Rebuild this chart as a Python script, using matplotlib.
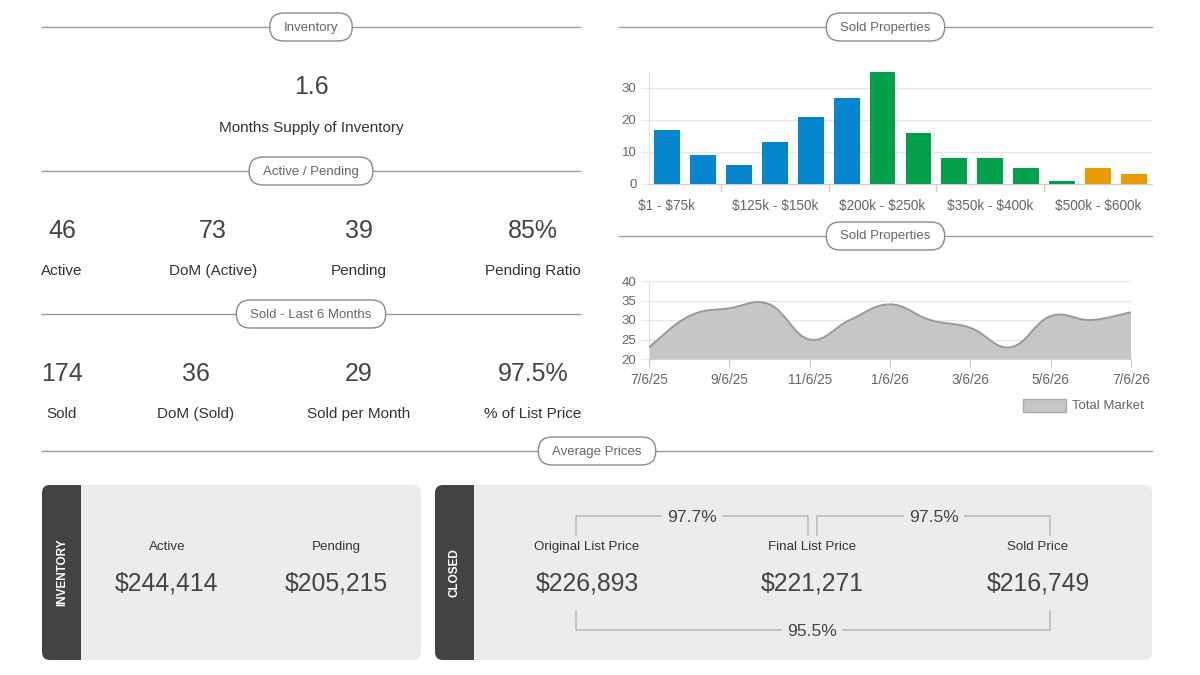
import matplotlib
matplotlib.use("Agg")
import matplotlib.pyplot as plt
from matplotlib.patches import FancyBboxPatch, Rectangle, PathPatch
from matplotlib.path import Path

plt.rcParams['font.family'] = ['Liberation Sans', 'DejaVu Sans']

# ---------------------------------------------------------------------------
# datos
# ---------------------------------------------------------------------------
months_supply = "1.6"

active_labels = ["Active", "DoM (Active)", "Pending", "Pending Ratio"]
active_values = ["46", "73", "39", "85%"]

sold_labels = ["Sold", "DoM (Sold)", "Sold per Month", "% of List Price"]
sold_values = ["174", "36", "29", "97.5%"]

price_ranges = ["$1 - $75k", "$75k - $100k", "$100k - $125k", "$125k - $150k",
                "$150k - $175k", "$175k - $200k", "$200k - $250k", "$250k - $300k",
                "$300k - $350k", "$350k - $400k", "$400k - $450k", "$450k - $500k",
                "$500k - $600k", "$600k - $700k"]
sold_counts = [17, 9, 6, 13, 21, 27, 35, 16, 8, 8, 5, 1, 5, 3]
range_groups = ["low"] * 6 + ["mid"] * 6 + ["high"] * 2

dates = ["7/6/25", "8/6/25", "9/6/25", "10/6/25", "11/6/25", "12/6/25", "1/6/26",
         "2/6/26", "3/6/26", "4/6/26", "5/6/26", "6/6/26", "7/6/26"]
total_market = [23, 31, 33, 34, 25, 30, 34, 30, 28, 23, 31, 30, 32]

inv_labels = ["Active", "Pending"]
inv_prices = ["$244,414", "$205,215"]

closed_labels = ["Original List Price", "Final List Price", "Sold Price"]
closed_prices = ["$226,893", "$221,271", "$216,749"]
ratio_orig_final = "97.7%"
ratio_final_sold = "97.5%"
ratio_orig_sold = "95.5%"

group_colors = {"low": "#0686CE", "mid": "#03A04C", "high": "#EB9A04"}

# ---------------------------------------------------------------------------
# lienzo en pixeles
# ---------------------------------------------------------------------------
fig = plt.figure(figsize=(12, 6.75), dpi=100)
ax = fig.add_axes([0, 0, 1, 1])
ax.set_xlim(0, 1200)
ax.set_ylim(675, 0)
ax.axis('off')
renderer = fig.canvas.get_renderer()

NUM = '#444444'
LAB = '#333333'
PANEL = '#ECECEC'
DARK = '#434346'


def cabecera(x0, x1, y, texto):
    """Linea divisoria con etiqueta tipo pildora."""
    xc = (x0 + x1) / 2
    ax.plot([x0, x1], [y, y], color='#9a9a9a', lw=1, zorder=1)
    t = ax.text(xc, y + 0.5, texto, ha='center', va='center', fontsize=9.5,
                color='#666666', zorder=5)
    w = t.get_window_extent(renderer).width
    caja = FancyBboxPatch((xc - w / 2 - 14, y - 14), w + 28, 28,
                          boxstyle='round,pad=0,rounding_size=14',
                          fc='white', ec='#8a8a8a', lw=1, zorder=4)
    ax.add_patch(caja)


cabecera(42, 580, 27, "Inventory")
cabecera(42, 580, 171, "Active / Pending")
cabecera(42, 580, 314, "Sold - Last 6 Months")
cabecera(619, 1152, 27, "Sold Properties")
cabecera(619, 1152, 236, "Sold Properties")
cabecera(42, 1152, 451, "Average Prices")

# inventario
ax.text(311, 86.5, months_supply, ha='center', va='center', fontsize=18, color=NUM)
ax.text(311, 128, "Months Supply of Inventory", ha='center', va='center',
        fontsize=11, color=LAB)

cols_a = [62, 213, 359, 533]
for x, v, l in zip(cols_a, active_values, active_labels):
    ax.text(x, 231, v, ha='center', va='center', fontsize=18, color=NUM)
    ax.text(x, 271, l, ha='center', va='center', fontsize=11, color=LAB)

cols_s = [62, 196, 359, 533]
for x, v, l in zip(cols_s, sold_values, sold_labels):
    ax.text(x, 374, v, ha='center', va='center', fontsize=18, color=NUM)
    ax.text(x, 414, l, ha='center', va='center', fontsize=11, color=LAB)

# ---------------------------------------------------------------------------
# grafico de barras
# ---------------------------------------------------------------------------
axb = fig.add_axes([649 / 1200, (675 - 184) / 675, 503 / 1200, 112 / 675])
pos = list(range(len(sold_counts)))
axb.bar(pos, sold_counts, width=0.72, color=[group_colors[g] for g in range_groups],
        zorder=3)
axb.set_xlim(-0.5, len(sold_counts) - 0.5)
axb.set_ylim(0, 35)
axb.set_yticks([0, 10, 20, 30])
axb.grid(axis='y', color='#e8e8e8', lw=1, zorder=0)
axb.set_xticks(pos[::3])
etiquetas = axb.set_xticklabels(price_ranges[::3])
for e in etiquetas:
    e.set_parse_math(False)
axb.set_xticks([1.5, 4.5, 7.5, 10.5], minor=True)
axb.tick_params(axis='x', which='major', length=0, pad=11, labelsize=9.8,
                labelcolor='#666666')
axb.tick_params(axis='x', which='minor', length=6, color='#cccccc', width=1)
axb.tick_params(axis='y', length=6, color='#e8e8e8', pad=3, labelsize=9.5,
                labelcolor='#666666')
for s in ['top', 'right']:
    axb.spines[s].set_visible(False)
axb.spines['left'].set_color('#e0e0e0')
axb.spines['bottom'].set_color('#d0d0d0')
axb.patch.set_alpha(0)

# ---------------------------------------------------------------------------
# grafico de area
# ---------------------------------------------------------------------------
axa = fig.add_axes([649 / 1200, (675 - 359) / 675, 482 / 1200, 78 / 675])
xs = list(range(len(total_market)))
tension = 0.2
verts = [(xs[0], total_market[0])]
codes = [Path.MOVETO]
n = len(xs)
for i in range(n - 1):
    p0 = (xs[max(i - 1, 0)], total_market[max(i - 1, 0)])
    p1 = (xs[i], total_market[i])
    p2 = (xs[i + 1], total_market[i + 1])
    p3 = (xs[min(i + 2, n - 1)], total_market[min(i + 2, n - 1)])
    c1 = (p1[0] + tension * (p2[0] - p0[0]), p1[1] + tension * (p2[1] - p0[1]))
    c2 = (p2[0] - tension * (p3[0] - p1[0]), p2[1] - tension * (p3[1] - p1[1]))
    verts += [c1, c2, p2]
    codes += [Path.CURVE4] * 3
linea = Path(verts, codes)
relleno = Path([(xs[0], 20)] + verts + [(xs[-1], 20), (xs[0], 20)],
               [Path.MOVETO, Path.LINETO] + codes[1:] + [Path.LINETO, Path.CLOSEPOLY])
axa.add_patch(PathPatch(relleno, fc='#C6C6C6', ec='none', zorder=2))
axa.add_patch(PathPatch(linea, fc='none', ec='#9a9a9a', lw=1.4, zorder=3))
axa.set_xlim(0, len(xs) - 1)
axa.set_ylim(20, 40)
axa.set_yticks([20, 25, 30, 35, 40])
axa.grid(axis='y', color='#e8e8e8', lw=1, zorder=0)
axa.set_xticks(xs[::2])
axa.set_xticklabels(dates[::2])
axa.tick_params(axis='x', length=6, color='#c8c8c8', pad=4, labelsize=9.8,
                labelcolor='#666666')
axa.tick_params(axis='y', length=6, color='#e8e8e8', pad=3, labelsize=9.5,
                labelcolor='#666666')
for s in ['top', 'right']:
    axa.spines[s].set_visible(False)
axa.spines['left'].set_color('#e0e0e0')
axa.spines['bottom'].set_color('#d0d0d0')
axa.patch.set_alpha(0)

# leyenda
ax.add_patch(Rectangle((1023, 399), 43, 13, fc='#C6C6C6', ec='#aaaaaa', lw=1))
ax.text(1072, 406, "Total Market", ha='left', va='center', fontsize=9.5, color='#666666')

# ---------------------------------------------------------------------------
# paneles de precios promedio
# ---------------------------------------------------------------------------
def panel(x0, x1, y0, y1, titulo):
    h = y1 - y0
    ax.add_patch(FancyBboxPatch((x0, y0), x1 - x0, h, boxstyle='round,pad=0,rounding_size=8',
                                fc=PANEL, ec='none', zorder=1))
    ax.add_patch(FancyBboxPatch((x0, y0), 50, h, boxstyle='round,pad=0,rounding_size=8',
                                fc=DARK, ec='none', zorder=2))
    ax.add_patch(Rectangle((x0 + 39, y0), 14, h, fc=PANEL, ec='none', zorder=3))
    ax.text(x0 + 20, (y0 + y1) / 2, titulo, rotation=90, ha='center', va='center',
            fontsize=8.5, fontweight='bold', color='white', zorder=4)


panel(42, 421, 485, 660, "INVENTORY")
panel(435, 1152, 485, 660, "CLOSED")

for x, l, p in zip([167, 336], inv_labels, inv_prices):
    ax.text(x, 547, l, ha='center', va='center', fontsize=9.6, color=LAB, zorder=5)
    ax.text(x, 583, p, ha='center', va='center', fontsize=17.8, color=NUM, zorder=5)

for x, l, p in zip([587, 812, 1038], closed_labels, closed_prices):
    ax.text(x, 547, l, ha='center', va='center', fontsize=9.6, color=LAB, zorder=5)
    ax.text(x, 583, p, ha='center', va='center', fontsize=17.8, color=NUM, zorder=5)

LC = '#bdbdbd'
ax.plot([576, 576, 808, 808], [535, 516, 516, 535], color=LC, lw=1.2, zorder=4)
ax.plot([817, 817, 1050, 1050], [535, 516, 516, 535], color=LC, lw=1.2, zorder=4)
ax.plot([576, 576, 1050, 1050], [611, 630, 630, 611], color=LC, lw=1.2, zorder=4)
caja_txt = dict(fc=PANEL, ec='none', pad=4)
ax.text(692, 517, ratio_orig_final, ha='center', va='center', fontsize=12.6,
        color=NUM, bbox=caja_txt, zorder=5)
ax.text(934, 517, ratio_final_sold, ha='center', va='center', fontsize=12.6,
        color=NUM, bbox=caja_txt, zorder=5)
ax.text(812, 631, ratio_orig_sold, ha='center', va='center', fontsize=12.6,
        color=NUM, bbox=caja_txt, zorder=5)

fig.savefig("out.png", dpi=100, facecolor='white')
